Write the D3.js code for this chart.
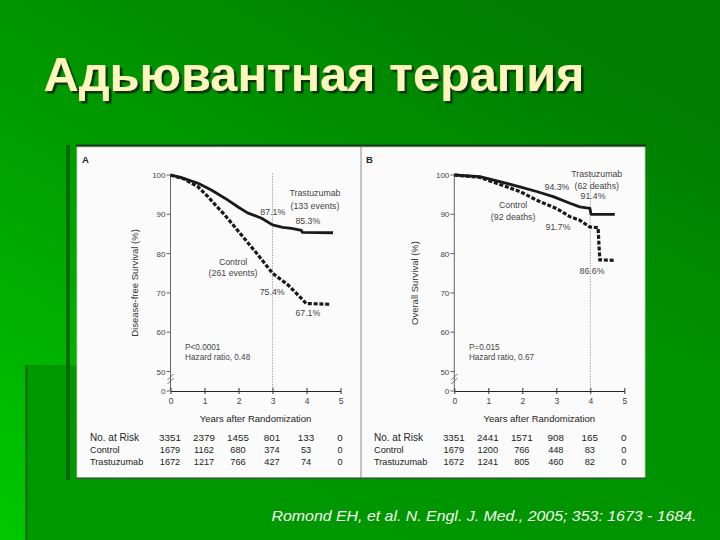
<!DOCTYPE html>
<html>
<head>
<meta charset="utf-8">
<script src="https://cdn.jsdelivr.net/npm/d3@7"></script>
<style>
html, body { margin: 0; padding: 0; background: #008000; }
svg { display: block; }
</style>
</head>
<body>
<svg id="chart" width="720" height="540"></svg>
<script>
'use strict';

// data
var strTitle = 'Адьювантная терапия';
var strCitation = 'Romond EH, et al. N. Engl. J. Med., 2005; 353: 1673 - 1684.';

var arrayYears = [0, 1, 2, 3, 4, 5];
var arrayTicksY = [50, 60, 70, 80, 90, 100];

// [year, survival %]
var arrayDfsTrastuzumab = [[0,100],[0.3,99.4],[0.81,97.9],[1.2,96.2],[1.6,94.1],[2.0,91.8],[2.28,90.3],[2.68,89.0],[3.0,87.3],[3.3,86.7],[3.56,86.4],[3.85,85.9],[3.88,85.4],[4.78,85.3]];
var arrayDfsControl = [[0,100],[0.4,99.0],[0.81,97.0],[1.1,94.5],[1.35,92.1],[1.6,89.8],[2.09,84.7],[2.58,79.6],[3.0,75.0],[3.46,72.0],[3.85,68.6],[3.99,67.3],[4.69,67.1]];
var arrayOsTrastuzumab = [[0,100],[0.75,99.6],[1.34,98.3],[1.93,97.0],[2.42,95.8],[2.91,94.5],[3.4,92.8],[3.69,91.9],[3.99,91.5],[4.02,90.0],[4.72,90.0]];
var arrayOsControl = [[0,100],[0.75,99.4],[1.34,97.6],[1.93,95.8],[2.42,93.6],[3.0,91.5],[3.4,89.4],[3.69,88.5],[3.98,86.8],[4.23,86.6],[4.25,83.0],[4.28,78.4],[4.69,78.3]];

var arrayRiskLabels = ['No. at Risk', 'Control', 'Trastuzumab'];
var arrayRiskDfs = [[3351,2379,1455,801,133,0],[1679,1162,680,374,53,0],[1672,1217,766,427,74,0]];
var arrayRiskOs = [[3351,2441,1571,908,165,0],[1679,1200,766,448,83,0],[1672,1241,805,460,82,0]];

var arrayNotesDfs = ['Trastuzumab', '(133 events)', '87.1%', '85.3%', 'Control', '(261 events)', '75.4%', '67.1%'];
var arrayNotesOs = ['Trastuzumab', '(62 deaths)', '91.4%', '94.3%', 'Control', '(92 deaths)', '91.7%', '86.6%'];

var svg = d3.select('#chart');
var defs = svg.append('defs');

// slide background
var grad = defs.append('linearGradient').attr('id', 'bg')
	.attr('x1', 0.75).attr('y1', 0).attr('x2', 0).attr('y2', 1);
grad.append('stop').attr('offset', '0%').attr('stop-color', '#007c00');
grad.append('stop').attr('offset', '45%').attr('stop-color', '#009a00');
grad.append('stop').attr('offset', '100%').attr('stop-color', '#00c800');

var shadow = defs.append('filter').attr('id', 'shadow')
	.attr('x', '-5%').attr('y', '-20%').attr('width', '110%').attr('height', '140%');
shadow.append('feDropShadow').attr('dx', 2.5).attr('dy', 2.5).attr('stdDeviation', 0.6)
	.attr('flood-color', '#0a2a0a').attr('flood-opacity', 0.9);

svg.append('rect').attr('width', 720).attr('height', 540).attr('fill', 'url(#bg)');
svg.append('rect').attr('x', 25).attr('y', 365).attr('width', 695).attr('height', 175)
	.attr('fill', '#009200').attr('opacity', 0.85);
svg.append('rect').attr('x', 25).attr('y', 365).attr('width', 3).attr('height', 175)
	.attr('fill', '#007a00');
svg.append('rect').attr('x', 66).attr('y', 145).attr('width', 4).attr('height', 335)
	.attr('fill', '#006a00');

// title
svg.append('text').attr('x', 43.5).attr('y', 91)
	.attr('font-family', 'Liberation Sans, Arial, sans-serif').attr('font-weight', 'bold')
	.attr('font-size', 48).attr('textLength', 541).attr('lengthAdjust', 'spacingAndGlyphs')
	.attr('fill', '#fbf6bc').attr('filter', 'url(#shadow)').text(strTitle);

// figure frame
svg.append('rect').attr('x', 76).attr('y', 144.5).attr('width', 570).attr('height', 2.5).attr('fill', '#143c14');
svg.append('rect').attr('x', 77).attr('y', 147).attr('width', 568).attr('height', 331)
	.attr('fill', '#fbfbfb').attr('stroke', '#c8c8c8').attr('stroke-width', 0.8);
svg.append('rect').attr('x', 76).attr('y', 477.5).attr('width', 570).attr('height', 1.5).attr('fill', '#2e5a2e');
svg.append('line').attr('x1', 361).attr('x2', 361).attr('y1', 147).attr('y2', 478)
	.attr('stroke', '#8a8a8a').attr('stroke-width', 1);

var strFont = 'Liberation Sans, Arial, sans-serif';
var y = d3.scaleLinear().domain([50, 100]).range([371.5, 175]);
var fZeroY = 391;

function DrawPanel(strLetter, fLeft, fAxisX, arrayTrast, arrayCtrl, nMarkYear, strYTitle,
	fYTitleX, arrayRisk, arrayNotes, arrayNotePos, strP, strHR)
{
	var g = svg.append('g');
	var x = d3.scaleLinear().domain([0, 5]).range([fAxisX, fAxisX + 170]);

	g.append('text').attr('x', fLeft + 5).attr('y', 163)
		.attr('font-family', strFont).attr('font-weight', 'bold').attr('font-size', 9.5)
		.attr('fill', '#222').text(strLetter);

	// y axis
	g.append('line').attr('x1', fAxisX).attr('x2', fAxisX).attr('y1', y(100)).attr('y2', fZeroY)
		.attr('stroke', '#555').attr('stroke-width', 0.9);
	var arrayY = arrayTicksY.map(function(n) { return { label: n, py: y(n) }; });
	arrayY.push({ label: 0, py: fZeroY });
	arrayY.forEach(function(t)
	{
		g.append('line').attr('x1', fAxisX - 4).attr('x2', fAxisX).attr('y1', t.py).attr('y2', t.py)
			.attr('stroke', '#555').attr('stroke-width', 0.9);
		g.append('text').attr('x', fAxisX - 5).attr('y', t.py + 3)
			.attr('text-anchor', 'end').attr('font-family', strFont).attr('font-size', 8)
			.attr('fill', '#444').text(t.label);
	});
	// axis break
	[377, 381].forEach(function(py)
	{
		g.append('line').attr('x1', fAxisX - 3).attr('x2', fAxisX + 3).attr('y1', py + 3).attr('y2', py - 3)
			.attr('stroke', '#555').attr('stroke-width', 0.8);
	});

	g.append('text').attr('transform', 'translate(' + fYTitleX + ',283) rotate(-90)')
		.attr('text-anchor', 'middle').attr('font-family', strFont).attr('font-size', 9.5)
		.attr('fill', '#333').text(strYTitle);

	// x axis
	var axisX = d3.axisBottom(x).tickValues(arrayYears).tickFormat(d3.format('d'))
		.tickSize(4).tickSizeOuter(0).tickPadding(3);
	var gx = g.append('g').attr('transform', 'translate(0,' + fZeroY + ')').call(axisX);
	gx.select('.domain').attr('stroke', '#222').attr('stroke-width', 1.1);
	gx.selectAll('.tick line').attr('stroke', '#333').attr('y1', -3).attr('y2', 3);
	gx.selectAll('.tick text').attr('font-family', strFont).attr('font-size', 8.5).attr('fill', '#444');

	g.append('text').attr('x', x(2.5)).attr('y', 422)
		.attr('text-anchor', 'middle').attr('font-family', strFont).attr('font-size', 9.5)
		.attr('fill', '#222').text('Years after Randomization');

	// landmark line
	g.append('line').attr('x1', x(nMarkYear)).attr('x2', x(nMarkYear)).attr('y1', y(100.4)).attr('y2', fZeroY)
		.attr('stroke', '#888').attr('stroke-width', 0.7).attr('stroke-dasharray', '1.5,1.2');

	var line = d3.line().x(function(d) { return x(d[0]); }).y(function(d) { return y(d[1]); });
	g.append('path').attr('d', line(arrayTrast)).attr('fill', 'none')
		.attr('stroke', '#1a1a1a').attr('stroke-width', 2.8).attr('stroke-linejoin', 'round');
	g.append('path').attr('d', line(arrayCtrl)).attr('fill', 'none')
		.attr('stroke', '#1a1a1a').attr('stroke-width', 3.2).attr('stroke-dasharray', '4,1.8');

	arrayNotes.forEach(function(strNote, i)
	{
		var pos = arrayNotePos[i];
		g.append('text').attr('x', x(pos[0])).attr('y', y(pos[1]) + 3)
			.attr('text-anchor', 'middle').attr('font-family', strFont).attr('font-size', 8.8)
			.attr('fill', '#444').text(strNote);
	});

	[strP, strHR].forEach(function(strText, i)
	{
		g.append('text').attr('x', x(0.43)).attr('y', y(56.3 - i * 2.5) + 3)
			.attr('font-family', strFont).attr('font-size', 8.2).attr('fill', '#444').text(strText);
	});

	// risk table
	arrayRiskLabels.forEach(function(strLabel, r)
	{
		var py = 441 + r * 11.8;
		g.append('text').attr('x', fLeft + 13).attr('y', py)
			.attr('font-family', strFont).attr('font-size', r == 0 ? 10 : 9.2)
			.attr('fill', '#222').text(strLabel);
		arrayRisk[r].forEach(function(n, c)
		{
			g.append('text').attr('x', x(arrayYears[c]) - 0.5).attr('y', py)
				.attr('text-anchor', 'middle').attr('font-family', strFont).attr('font-size', r == 0 ? 9.8 : 9.2)
				.attr('fill', '#222').text(n);
		});
	});
}

DrawPanel('A', 77, 170.5, arrayDfsTrastuzumab, arrayDfsControl, 3, 'Disease-free Survival (%)', 138,
	arrayRiskDfs, arrayNotesDfs,
	[[4.25,95.4],[4.25,92.2],[3.01,90.7],[4.04,88.3],[1.84,77.9],[1.84,75.1],[2.99,70.2],[4.04,64.9]],
	'P<0.0001', 'Hazard ratio, 0.48');

DrawPanel('B', 361, 454.3, arrayOsTrastuzumab, arrayOsControl, 4, 'Overall Survival (%)', 418,
	arrayRiskOs, arrayNotesOs,
	[[4.19,100.25],[4.19,97.3],[4.08,94.7],[3.02,96.9],[1.73,92.4],[1.73,89.4],[3.05,86.8],[4.05,75.6]],
	'P=0.015', 'Hazard ratio, 0.67');

// citation
svg.append('text').attr('x', 271.5).attr('y', 521)
	.attr('font-family', strFont).attr('font-style', 'italic').attr('font-size', 14)
	.attr('textLength', 425).attr('lengthAdjust', 'spacingAndGlyphs')
	.attr('fill', '#f4f8f0').text(strCitation);
</script>
</body>
</html>
